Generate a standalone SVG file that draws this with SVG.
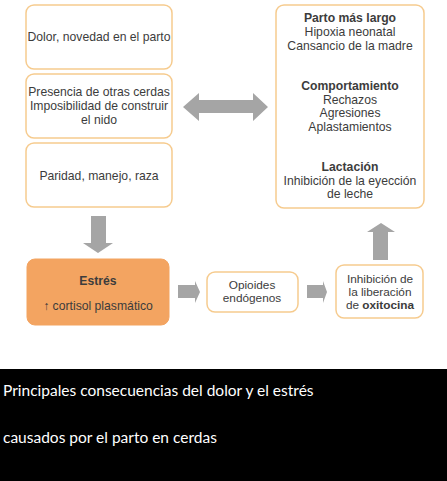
<svg xmlns="http://www.w3.org/2000/svg" width="447" height="481" viewBox="0 0 447 481">
<style>
.box{fill:#fff;stroke:#F6CB8E;stroke-width:1.5}
.est{fill:#F3A461;stroke:#F3A461;stroke-width:1}
.t{font-family:"Liberation Sans",Arial,sans-serif;font-size:12.2px;fill:#3c3c3c;text-anchor:middle}
.s{font-size:11.8px}
.b{font-weight:bold}
.arr{fill:#A5A5A5}
.cap{font-family:Lato,"Liberation Sans",sans-serif;font-size:15.5px;fill:#fff}
</style>
<rect width="447" height="481" fill="#fff"/>
<g id="n1"><rect class="box" x="26" y="5" width="146" height="64" rx="8"/><text class="t" x="99" y="41">Dolor, novedad en el parto</text></g>
<g id="n2"><rect class="box" x="26" y="74" width="146" height="64" rx="8"/><text class="t" x="99" y="96">Presencia de otras cerdas</text><text class="t" x="99" y="110">Imposibilidad de construir</text><text class="t" x="99" y="124">el nido</text></g>
<g id="n3"><rect class="box" x="26" y="143" width="146" height="64" rx="8"/><text class="t" x="99" y="180">Paridad, manejo, raza</text></g>
<g id="n4"><rect class="box" x="276" y="5" width="148" height="203" rx="8"/>
<text class="t b" x="350" y="22">Parto más largo</text><text class="t" x="350" y="36">Hipoxia neonatal</text><text class="t" x="350" y="50">Cansancio de la madre</text>
<text class="t b" x="350" y="90">Comportamiento</text><text class="t" x="350" y="104">Rechazos</text><text class="t" x="350" y="117">Agresiones</text><text class="t" x="350" y="131">Aplastamientos</text>
<text class="t b" x="350" y="171">Lactación</text><text class="t" x="350" y="185">Inhibición de la eyección</text><text class="t" x="350" y="198">de leche</text></g>
<g id="n5"><rect class="est" x="27" y="259" width="142" height="66" rx="8"/><text class="t b" x="98" y="285">Estrés</text><text class="t" x="98" y="310">↑ cortisol plasmático</text></g>
<g id="n6"><rect class="box" x="207" y="272" width="91" height="40" rx="8"/><text class="t s" x="252" y="289">Opioides</text><text class="t s" x="252" y="302">endógenos</text></g>
<g id="n7"><rect class="box" x="336" y="265" width="87" height="53" rx="8"/><text class="t s" x="380" y="283">Inhibición de</text><text class="t s" x="380" y="296">la liberación</text><text class="t s" x="380" y="309">de <tspan class="b">oxitocina</tspan></text></g>
<g id="connectors">
<polygon class="arr" points="183,107 199,93 199,100 253,100 253,93 268,107 253,121 253,113 199,113 199,121"/>
<polygon class="arr" points="91,216 106,216 106,243 113,243 98,253 83,243 91,243"/>
<polygon class="arr" points="178,285 195,285 195,281 200,292 195,303 195,298 178,298"/>
<polygon class="arr" points="307,285 323,285 323,281 327,292 323,303 323,298 307,298"/>
<polygon class="arr" points="373,260 388,260 388,232 395,232 381,223 367,232 373,232"/>
</g>
<g id="caption"><rect x="0" y="369" width="447" height="112" fill="#000"/>
<text class="cap" x="3" y="396">Principales consecuencias del dolor y el estrés</text>
<text class="cap" x="3" y="443">causados por el parto en cerdas</text></g>
</svg>
